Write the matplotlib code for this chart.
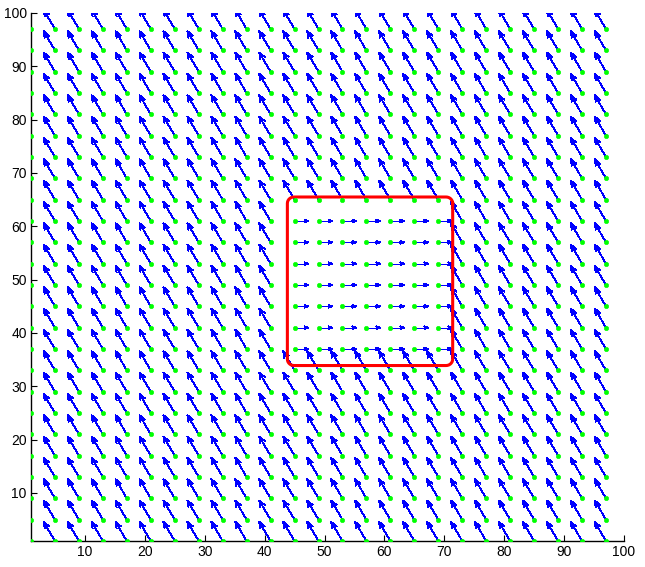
import numpy as np
import matplotlib
matplotlib.use("Agg")
import matplotlib.pyplot as plt
from matplotlib.collections import LineCollection

# ---- data ----
grid_x = list(range(1, 98, 4))          # base points along x
grid_y = list(range(1, 98, 4))          # base points along y
outer_vector = [-1.9, 3.6]              # (u, v) outside the region
inner_vector = [2.3, 0.0]               # (u, v) inside the region
inner_x_range = [45, 69]                # base points with inner vectors
inner_y_range = [37, 61]
contour_x = [43.8, 71.4]                # red boundary extent
contour_y = [33.9, 65.5]
corner_r = [1.1, 1.2]
x_ticks = [10, 20, 30, 40, 50, 60, 70, 80, 90, 100]
y_ticks = [10, 20, 30, 40, 50, 60, 70, 80, 90, 100]

plt.rcParams['font.family'] = ['Liberation Sans', 'DejaVu Sans']

fig = plt.figure(figsize=(6.45, 5.67), dpi=100)
ax = fig.add_axes([31/645, 1 - 541/567, (624 - 31)/645, (541 - 13)/567])

X, Y = np.meshgrid(np.array(grid_x, float), np.array(grid_y, float))
inside = ((X >= inner_x_range[0]) & (X <= inner_x_range[1]) &
          (Y >= inner_y_range[0]) & (Y <= inner_y_range[1]))
U = np.where(inside, inner_vector[0], outer_vector[0])
V = np.where(inside, inner_vector[1], outer_vector[1])

x = X.ravel(); y = Y.ravel(); u = U.ravel(); v = V.ravel()
alpha, beta = 0.3, 0.35
tx, ty = x + u, y + v
segs = []
for i in range(len(x)):
    segs.append([(x[i], y[i]), (tx[i], ty[i])])
    h1 = (tx[i] - alpha * (u[i] + beta * v[i]), ty[i] - alpha * (v[i] - beta * u[i]))
    h2 = (tx[i] - alpha * (u[i] - beta * v[i]), ty[i] - alpha * (v[i] + beta * u[i]))
    segs.append([h1, (tx[i], ty[i]), h2])
lc = LineCollection(segs, colors='#0000ff', linewidths=0.6, antialiased=False, zorder=2)
ax.add_collection(lc)

# red rounded-rectangle boundary
x0, x1 = contour_x; y0, y1 = contour_y; rx, ry = corner_r
t = np.linspace(0, np.pi / 2, 8)
px, py = [], []
for cx, cy, a0 in [(x1 - rx, y1 - ry, 0), (x0 + rx, y1 - ry, np.pi / 2),
                   (x0 + rx, y0 + ry, np.pi), (x1 - rx, y0 + ry, 1.5 * np.pi)]:
    px.extend(cx + rx * np.cos(a0 + t)); py.extend(cy + ry * np.sin(a0 + t))
px.append(px[0]); py.append(py[0])
ax.plot(px, py, color='#ff0000', lw=2.2, zorder=3, solid_joinstyle='miter')

ax.plot(x, y, linestyle='none', marker='o', ms=3.2, mfc='#00ff00', mec='#00ff00',
        mew=0.4, zorder=4)

ax.set_xlim(1, 100)
ax.set_ylim(1, 100)
ax.set_xticks(x_ticks)
ax.set_yticks(y_ticks)
ax.tick_params(direction='in', length=4.5, width=0.8, labelsize=10, pad=3, colors='black')
for s in ['top', 'right']:
    ax.spines[s].set_visible(False)
for s in ['left', 'bottom']:
    ax.spines[s].set_linewidth(1.0)
ax.set_facecolor('white')
fig.savefig('out.png', dpi=100, facecolor='white')
